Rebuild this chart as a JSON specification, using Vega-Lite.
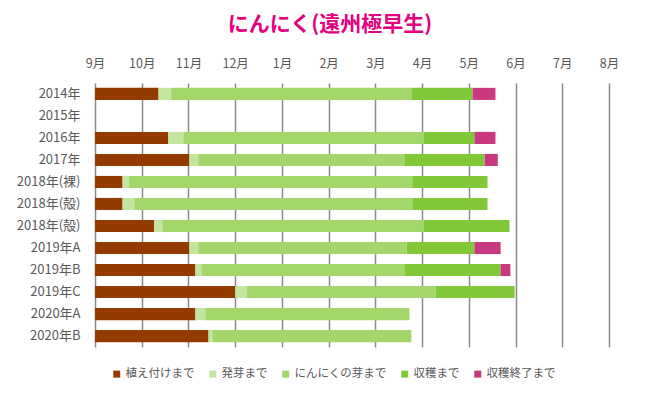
{
  "$schema": "https://vega.github.io/schema/vega-lite/v6.json",
  "autosize": "none",
  "width": 514,
  "height": 264,
  "padding": {"left": 95, "top": 83, "right": 55, "bottom": 49},
  "background": "white",
  "title": {
    "text": "にんにく(遠州極早生)",
    "font": "Noto Sans CJK JP",
    "fontSize": 21,
    "fontWeight": "bold",
    "color": "#E4007F",
    "anchor": "middle",
    "dx": -22,
    "offset": 22
  },
  "data": {
    "values": [
      {"row": 0, "stage": "植え付けまで", "start": 0, "end": 1.36},
      {"row": 0, "stage": "発芽まで", "start": 1.36, "end": 1.63},
      {"row": 0, "stage": "にんにくの芽まで", "start": 1.63, "end": 6.77},
      {"row": 0, "stage": "収穫まで", "start": 6.77, "end": 8.08},
      {"row": 0, "stage": "収穫終了まで", "start": 8.08, "end": 8.57},
      {"row": 2, "stage": "植え付けまで", "start": 0, "end": 1.57},
      {"row": 2, "stage": "発芽まで", "start": 1.57, "end": 1.89},
      {"row": 2, "stage": "にんにくの芽まで", "start": 1.89, "end": 7.03},
      {"row": 2, "stage": "収穫まで", "start": 7.03, "end": 8.12},
      {"row": 2, "stage": "収穫終了まで", "start": 8.12, "end": 8.57},
      {"row": 3, "stage": "植え付けまで", "start": 0, "end": 2.02},
      {"row": 3, "stage": "発芽まで", "start": 2.02, "end": 2.21},
      {"row": 3, "stage": "にんにくの芽まで", "start": 2.21, "end": 6.62},
      {"row": 3, "stage": "収穫まで", "start": 6.62, "end": 8.34},
      {"row": 3, "stage": "収穫終了まで", "start": 8.34, "end": 8.62},
      {"row": 4, "stage": "植え付けまで", "start": 0, "end": 0.59},
      {"row": 4, "stage": "発芽まで", "start": 0.59, "end": 0.73},
      {"row": 4, "stage": "にんにくの芽まで", "start": 0.73, "end": 6.79},
      {"row": 4, "stage": "収穫まで", "start": 6.79, "end": 8.4},
      {"row": 5, "stage": "植え付けまで", "start": 0, "end": 0.59},
      {"row": 5, "stage": "発芽まで", "start": 0.59, "end": 0.84},
      {"row": 5, "stage": "にんにくの芽まで", "start": 0.84, "end": 6.79},
      {"row": 5, "stage": "収穫まで", "start": 6.79, "end": 8.4},
      {"row": 6, "stage": "植え付けまで", "start": 0, "end": 1.27},
      {"row": 6, "stage": "発芽まで", "start": 1.27, "end": 1.44},
      {"row": 6, "stage": "にんにくの芽まで", "start": 1.44, "end": 7.03},
      {"row": 6, "stage": "収穫まで", "start": 7.03, "end": 8.87},
      {"row": 7, "stage": "植え付けまで", "start": 0, "end": 2.02},
      {"row": 7, "stage": "発芽まで", "start": 2.02, "end": 2.21},
      {"row": 7, "stage": "にんにくの芽まで", "start": 2.21, "end": 6.67},
      {"row": 7, "stage": "収穫まで", "start": 6.67, "end": 8.12},
      {"row": 7, "stage": "収穫終了まで", "start": 8.12, "end": 8.68},
      {"row": 8, "stage": "植え付けまで", "start": 0, "end": 2.15},
      {"row": 8, "stage": "発芽まで", "start": 2.15, "end": 2.28},
      {"row": 8, "stage": "にんにくの芽まで", "start": 2.28, "end": 6.62},
      {"row": 8, "stage": "収穫まで", "start": 6.62, "end": 8.68},
      {"row": 8, "stage": "収穫終了まで", "start": 8.68, "end": 8.89},
      {"row": 9, "stage": "植え付けまで", "start": 0, "end": 3.0},
      {"row": 9, "stage": "発芽まで", "start": 3.0, "end": 3.24},
      {"row": 9, "stage": "にんにくの芽まで", "start": 3.24, "end": 7.29},
      {"row": 9, "stage": "収穫まで", "start": 7.29, "end": 8.98},
      {"row": 10, "stage": "植え付けまで", "start": 0, "end": 2.15},
      {"row": 10, "stage": "発芽まで", "start": 2.15, "end": 2.36},
      {"row": 10, "stage": "にんにくの芽まで", "start": 2.36, "end": 6.73},
      {"row": 11, "stage": "植え付けまで", "start": 0, "end": 2.43},
      {"row": 11, "stage": "発芽まで", "start": 2.43, "end": 2.51},
      {"row": 11, "stage": "にんにくの芽まで", "start": 2.51, "end": 6.77}
    ]
  },
  "mark": {"type": "bar"},
  "encoding": {
    "y": {
      "field": "row",
      "type": "ordinal",
      "scale": {"domain": [0,1,2,3,4,5,6,7,8,9,10,11], "paddingInner": 0.45, "paddingOuter": 0.22},
      "axis": {
        "title": null,
        "domain": false,
        "ticks": false,
        "grid": false,
        "labelPadding": 15,
        "labelFont": "Noto Sans CJK JP",
        "labelFontSize": 13,
        "labelColor": "#595959",
        "labelExpr": "['2014年','2015年','2016年','2017年','2018年(裸)','2018年(殻)','2018年(殻)','2019年A','2019年B','2019年C','2020年A','2020年B'][datum.value]"
      }
    },
    "x": {
      "field": "start",
      "type": "quantitative",
      "scale": {"domain": [0, 11], "nice": false, "zero": false},
      "axis": {
        "orient": "top",
        "title": null,
        "values": [0,1,2,3,4,5,6,7,8,9,10,11],
        "domain": false,
        "ticks": false,
        "labelFlush": false,
        "labelPadding": 13,
        "labelFont": "Noto Sans CJK JP",
        "labelFontSize": 12.5,
        "labelColor": "#595959",
        "gridColor": "#8a8a8a",
        "gridWidth": 1.5,
        "labelExpr": "['9月','10月','11月','12月','1月','2月','3月','4月','5月','6月','7月','8月'][datum.value]"
      }
    },
    "x2": {"field": "end"},
    "color": {
      "field": "stage",
      "type": "nominal",
      "scale": {
        "domain": ["植え付けまで", "発芽まで", "にんにくの芽まで", "収穫まで", "収穫終了まで"],
        "range": ["#943C00", "#C3E5A0", "#A3D76C", "#80C837", "#C83A7F"]
      },
      "legend": {
        "title": null,
        "orient": "none",
        "direction": "horizontal",
        "legendX": 16,
        "legendY": 285,
        "symbolType": "square",
        "symbolSize": 49,
        "symbolStrokeWidth": 0,
        "labelFont": "Noto Sans CJK JP",
        "labelFontSize": 11.5,
        "labelColor": "#595959",
        "labelOffset": 3,
        "columnPadding": 12
      }
    }
  },
  "config": {
    "view": {"stroke": null}
  }
}
